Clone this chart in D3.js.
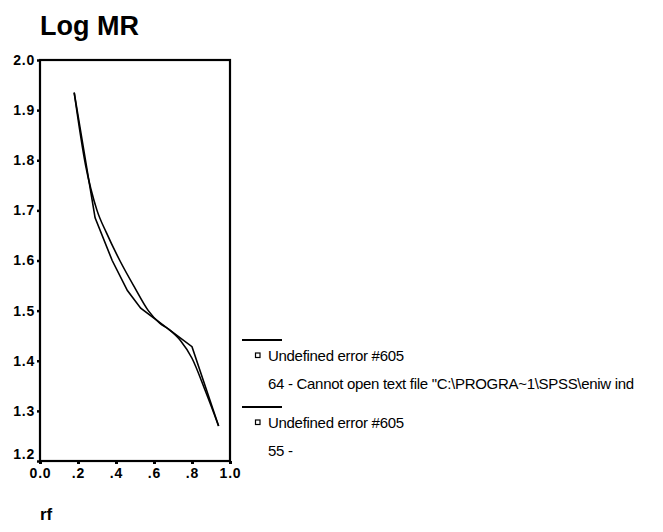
<!DOCTYPE html>
<html>
<head>
<meta charset="utf-8">
<script src="https://cdnjs.cloudflare.com/ajax/libs/d3/7.8.5/d3.min.js"></script>
<style>
  body { margin: 0; background: #fff; }
  text { font-family: Arial, "Liberation Sans", sans-serif; fill: #000; }
</style>
</head>
<body>
<script>
// observed series (with kinks)
var rfA  = [0.18, 0.29, 0.38, 0.46, 0.53, 0.68, 0.80, 0.94];
var logA = [1.935, 1.685, 1.60, 1.54, 1.505, 1.462, 1.428, 1.27];

// smooth series
var rfB  = [0.18, 0.24, 0.30, 0.35, 0.42, 0.50, 0.57, 0.63, 0.68, 0.74, 0.80, 0.87, 0.94];
var logB = [1.935, 1.79, 1.70, 1.655, 1.60, 1.545, 1.50, 1.475, 1.462, 1.44, 1.405, 1.34, 1.27];

// tick labels
var xTicks = [0, 0.2, 0.4, 0.6, 0.8, 1.0];
var xLabels = ["0.0", ".2", ".4", ".6", ".8", "1.0"];
var yTicks = [1.2, 1.3, 1.4, 1.5, 1.6, 1.7, 1.8, 1.9, 2.0];

// legend texts
var legendNames = ["Undefined error #605", "Undefined error #605"];
var legendNotes = ["64 - Cannot open text file \"C:\\PROGRA~1\\SPSS\\eniw ind", "55 -"];

var breedte = 663, hoogte = 532;
var marge = {links: 40, rechts: 433, boven: 60, beneden: 71};

var svg = d3.select("body").append("svg")
    .attr("width", breedte)
    .attr("height", hoogte);

var x = d3.scaleLinear().domain([0, 1]).range([marge.links, breedte - marge.rechts]);
var y = d3.scaleLinear().domain([1.2, 2.0]).range([hoogte - marge.beneden, marge.boven]);

// title
svg.append("text")
   .attr("x", 40)
   .attr("y", 35)
   .attr("font-size", "27px")
   .attr("font-weight", "bold")
   .text("Log MR");

// frame
svg.append("rect")
   .attr("x", x(0))
   .attr("y", y(2.0))
   .attr("width", x(1) - x(0))
   .attr("height", y(1.2) - y(2.0))
   .attr("fill", "none")
   .attr("stroke", "#000")
   .attr("stroke-width", 2.2);

// y axis
var asY = d3.axisLeft(y).tickValues(yTicks).tickFormat(d3.format(".1f")).tickSize(3).tickPadding(2);
var gY = svg.append("g")
   .attr("transform", "translate(" + x(0) + ",0)")
   .call(asY);
gY.select(".domain").remove();
gY.selectAll(".tick line").attr("stroke-width", 2.5);
gY.selectAll(".tick text")
   .attr("font-size", "14px")
   .attr("font-weight", "bold")
   .attr("letter-spacing", "0.8px")
   .attr("font-family", "Arial, 'Liberation Sans', sans-serif")
   .attr("dy", function(d) { return d === 1.2 ? "-0.2em" : "0.32em"; });

// x axis
var asX = d3.axisBottom(x).tickValues(xTicks).tickFormat(function(d, i) { return xLabels[i]; }).tickSize(3).tickPadding(4);
var gX = svg.append("g")
   .attr("transform", "translate(0," + y(1.2) + ")")
   .call(asX);
gX.select(".domain").remove();
gX.selectAll(".tick line").attr("stroke-width", 3);
gX.selectAll(".tick text")
   .attr("font-size", "14px")
   .attr("font-weight", "bold")
   .attr("letter-spacing", "0.8px")
   .attr("font-family", "Arial, 'Liberation Sans', sans-serif");

// x axis title
svg.append("text")
   .attr("x", 40)
   .attr("y", 520)
   .attr("font-size", "17px")
   .attr("font-weight", "bold")
   .text("rf");

// the two lines
var lijn = d3.line()
    .x(function(d) { return x(d[0]); })
    .y(function(d) { return y(d[1]); });

svg.append("path")
   .datum(d3.zip(rfA, logA))
   .attr("d", lijn)
   .attr("fill", "none")
   .attr("stroke", "#000")
   .attr("stroke-width", 1.6);

svg.append("path")
   .datum(d3.zip(rfB, logB))
   .attr("d", lijn.curve(d3.curveMonotoneX))
   .attr("fill", "none")
   .attr("stroke", "#000")
   .attr("stroke-width", 1.6);

// legend
var legenda = svg.selectAll(".legend")
    .data(legendNames)
    .enter()
    .append("g")
    .attr("class", "legend")
    .attr("transform", function(d, i) { return "translate(242," + (340 + i * 67) + ")"; });

legenda.append("line")
   .attr("x1", 0).attr("x2", 40)
   .attr("y1", 0).attr("y2", 0)
   .attr("stroke", "#000")
   .attr("stroke-width", 1.8);

legenda.append("rect")
   .attr("x", 13.5).attr("y", 13)
   .attr("width", 4.5).attr("height", 4.5)
   .attr("fill", "none")
   .attr("stroke", "#000")
   .attr("stroke-width", 1.2);

legenda.append("text")
   .attr("x", 26).attr("y", 16)
   .attr("dy", "0.35em")
   .attr("font-size", "15px")
   .attr("letter-spacing", "-0.3px")
   .text(function(d) { return d; });

legenda.append("text")
   .attr("x", 26).attr("y", 44)
   .attr("dy", "0.35em")
   .attr("font-size", "15px")
   .attr("letter-spacing", "-0.3px")
   .text(function(d, i) { return legendNotes[i]; });
</script>
</body>
</html>
